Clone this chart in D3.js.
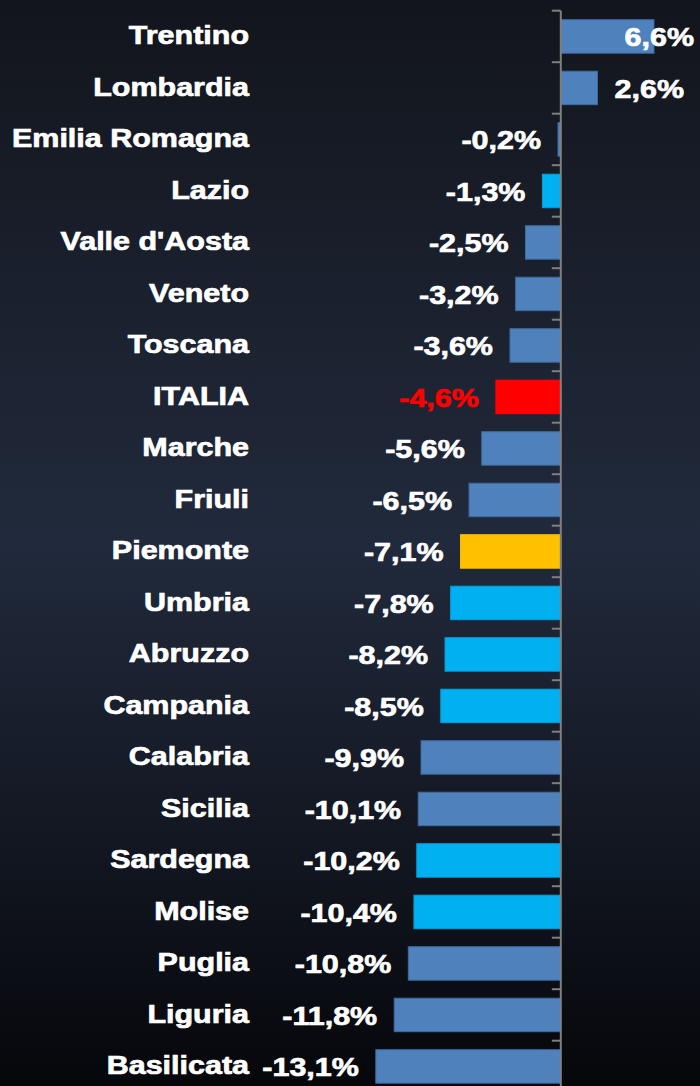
<!DOCTYPE html>
<html lang="it">
<head>
<meta charset="UTF-8">
<title>Regioni - variazione %</title>
<style>
  html, body { margin: 0; padding: 0; }
  body { width: 700px; height: 1086px; overflow: hidden; }
  text { font-family: "Liberation Sans", Arial, sans-serif; font-weight: bold; }
</style>
<script src="https://d3js.org/d3.v7.min.js"></script>
</head>
<body>
<div class="graph"></div>
<script>
// dati
const regioni = ['Trentino', 'Lombardia', 'Emilia Romagna', 'Lazio', "Valle d'Aosta", 'Veneto', 'Toscana',
  'ITALIA', 'Marche', 'Friuli', 'Piemonte', 'Umbria', 'Abruzzo', 'Campania', 'Calabria', 'Sicilia',
  'Sardegna', 'Molise', 'Puglia', 'Liguria', 'Basilicata']
const valori = [6.6, 2.6, -0.2, -1.3, -2.5, -3.2, -3.6, -4.6, -5.6, -6.5, -7.1, -7.8, -8.2, -8.5, -9.9,
  -10.1, -10.2, -10.4, -10.8, -11.8, -13.1]
const etichette = ['6,6%', '2,6%', '-0,2%', '-1,3%', '-2,5%', '-3,2%', '-3,6%', '-4,6%', '-5,6%', '-6,5%',
  '-7,1%', '-7,8%', '-8,2%', '-8,5%', '-9,9%', '-10,1%', '-10,2%', '-10,4%', '-10,8%', '-11,8%', '-13,1%']
const gruppi = ['b', 'b', 'b', 'c', 'b', 'b', 'b', 'it', 'b', 'b', 'pie', 'c', 'c', 'c', 'b', 'b', 'c', 'c', 'b', 'b', 'b']

const colori = { b: '#4f81bd', c: '#00b0f0', it: '#ff0000', pie: '#ffc000' }
const bordi = { b: '#3d6a9f', c: '#00a0dc', it: '#ff0000', pie: '#ffc000' }

const width = 700, height = 1086
const dati = regioni.map((r, i) => ({ r, v: valori[i], lab: etichette[i], g: gruppi[i] }))

const svg = d3.select('.graph').append('svg')
  .attr('width', width).attr('height', height)

const grad = svg.append('defs').append('linearGradient')
  .attr('id', 'sfondo').attr('x1', 0).attr('y1', 0).attr('x2', 0).attr('y2', 1)
grad.append('stop').attr('offset', '0%').attr('stop-color', '#12151c')
grad.append('stop').attr('offset', '50%').attr('stop-color', '#212a3c')
grad.append('stop').attr('offset', '100%').attr('stop-color', '#06070b')
svg.append('rect').attr('width', width).attr('height', height).attr('fill', 'url(#sfondo)')

const x = d3.scaleLinear().domain([-15, 10]).range([349, 702])
const y = d3.scaleBand().domain(regioni).range([10.7, 1092.2])
  .paddingInner(0.35).paddingOuter(0.175)

// barre
svg.selectAll('rect.bar').data(dati).enter().append('rect')
  .attr('class', 'bar')
  .attr('x', d => x(Math.min(0, d.v)))
  .attr('width', d => Math.abs(x(d.v) - x(0)))
  .attr('y', d => y(d.r))
  .attr('height', y.bandwidth())
  .attr('fill', d => colori[d.g])
  .attr('stroke', d => bordi[d.g])
  .attr('stroke-width', 1)

// asse verticale con tacche tra le categorie
const confini = d3.range(regioni.length + 1).map(i => y.range()[0] + i * y.step())
const asse = svg.append('g').attr('transform', `translate(${x(0)},0)`)
asse.append('line')
  .attr('x1', 0).attr('x2', 0)
  .attr('y1', confini[0]).attr('y2', height)
  .attr('stroke', '#7f7f7f').attr('stroke-width', 2)
asse.selectAll('line.tick').data(confini).enter().append('line')
  .attr('class', 'tick')
  .attr('x1', -9).attr('x2', 0)
  .attr('y1', d => d).attr('y2', d => d)
  .attr('stroke', '#7f7f7f').attr('stroke-width', 2)

const sx = 1.15
const fs = 26.5

// nomi regioni
svg.selectAll('text.reg').data(dati).enter().append('text')
  .attr('class', 'reg')
  .attr('transform', d => `translate(249,${y(d.r) + y.bandwidth() / 2 + 8}) scale(${sx},1)`)
  .attr('text-anchor', 'end')
  .attr('font-size', fs)
  .attr('fill', '#ffffff')
  .attr('stroke', '#ffffff').attr('stroke-width', 0.7)
  .text(d => d.r)

// etichette valori
const val = svg.selectAll('text.val').data(dati).enter().append('text')
  .attr('class', 'val')
  .attr('font-size', fs)
  .attr('fill', d => d.g === 'it' ? '#ff0000' : '#ffffff')
  .attr('stroke', d => d.g === 'it' ? '#ff0000' : '#ffffff').attr('stroke-width', 0.7)
  .attr('text-anchor', 'end')
  .text(d => d.lab)

val.attr('transform', function (d) {
  const w = this.getComputedTextLength() * sx
  let xe
  if (d.v < 0) xe = x(d.v) - 17
  else xe = Math.min(x(d.v) + 17 + w, 694)
  return `translate(${xe},${y(d.r) + y.bandwidth() / 2 + 10}) scale(${sx},1)`
})
</script>
</body>
</html>
